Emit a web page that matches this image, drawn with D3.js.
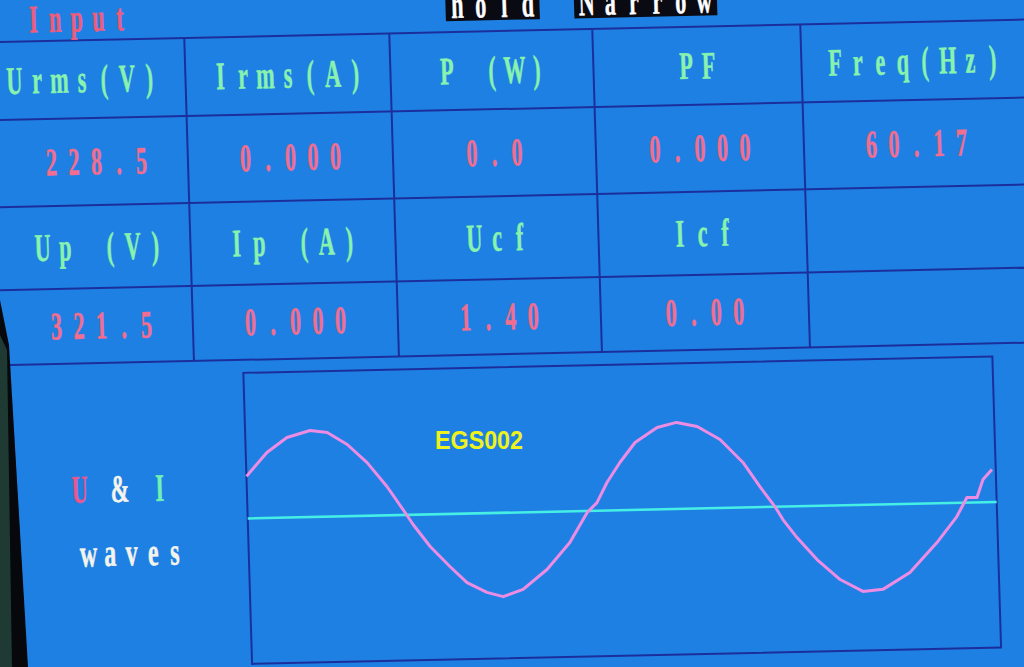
<!DOCTYPE html>
<html lang="en">

<head>
    <meta charset="UTF-8">
    <title>Input - U &amp; I waves</title>
    <script src="https://cdnjs.cloudflare.com/ajax/libs/d3/7.8.5/d3.min.js"></script>
    <style>
        html,
        body {
            margin: 0;
            padding: 0;
            background: #1f80e4;
            overflow: hidden;
        }

        svg#main {
            display: block;
        }

        line.grid {
            stroke: #1b2f9c;
            stroke-width: 2px;
        }

        text.lcd {
            font-family: 'Liberation Serif', 'DejaVu Serif', serif;
            font-size: 30px;
            text-anchor: middle;
            stroke-width: 0.4px;
        }

        rect.plot {
            fill: none;
            stroke: #1b2f9c;
            stroke-width: 2px;
        }

        path.voltage {
            fill: none;
            stroke: #ec8ce2;
            stroke-width: 3px;
            stroke-linejoin: round;
        }

        path.current {
            fill: none;
            stroke: #46efe6;
            stroke-width: 2.5px;
        }
    </style>
</head>

<body>
    <svg id="main" width="1024" height="667"></svg>
    <script>
        "use strict";

        // ---- readings shown on the meter ----
        const titleText = "Input";
        const modeTags = ["hold", "Narrow"];
        const headersTop = ["Urms(V)", "Irms(A)", "P (W)", "PF", "Freq(Hz)"];
        const valuesTop = ["228.5", "0.000", "0.0", "0.000", "60.17"];
        const headersBottom = ["Up (V)", "Ip (A)", "Ucf", "Icf", ""];
        const valuesBottom = ["321.5", "0.000", "1.40", "0.00", ""];
        const waveLabel = ["U & I", "waves"];
        const watermark = "EGS002";

        // voltage trace (time in ms, volts)
        const waveTimesMs = [0, 0.94, 1.85, 2.89, 3.65, 4.52, 5.38, 6.23, 7.0, 7.34,
            8.07, 8.92, 9.66, 10.53, 11.25, 12.14, 13.23, 14.28, 15.09, 15.54,
            16.01, 16.61, 17.31, 18.31, 19.18, 20.09, 21.09, 22.08, 22.8, 23.44,
            23.78, 24.38, 25.24, 26.24, 27.24, 28.13, 29.35, 30.59, 31.51, 31.98,
            32.43, 32.72, 33.13];
        const voltageSamples = [156, 243, 297, 321, 312, 266, 197, 107, 9, -36,
            -119, -195, -256, -294, -311, -286, -214, -116, -6, 30,
            104, 177, 250, 304, 321, 304, 254, 167, 76, 1,
            -48, -116, -199, -275, -321, -315, -255, -146, -51, 19,
            18, 84, 121];

        // current trace (flat, no load)
        const currentTimesMs = [0, 33.3];
        const currentSamples = [0, 0];

        const timeDomain = [0, 33.3];
        const voltDomain = [-540, 540];
        const ampDomain = [-1, 1];

        // ---- layout (screen coordinates before the camera skew) ----
        const colEdges = [0, 183, 388, 591, 799, 1024];
        const rowEdges = [42, 120, 207, 290, 365];
        const plot = { left: 232, right: 981, top: 378, bottom: 669 };

        const pink = "#f26d8e";
        const green = "#88f2ae";
        const white = "#f4f4ec";

        const svg = d3.select("svg#main");

        svg.append("rect")
            .attr("width", 1024)
            .attr("height", 667)
            .attr("fill", "#1f80e4");

        // photo was taken at a slight angle
        const screen = svg.append("g")
            .attr("transform", "matrix(1,-0.022,0.03,1,0,0)");

        function lcdLabel(parent, str, cx, cy, colorOf, opt) {
            opt = Object.assign({ pitch: 22.5, sx: 0.74, sy: 1.3, weight: "bold" }, opt);
            const chars = Array.from(str).map((ch, i) => ({ ch: ch, color: colorOf(ch, i) }));
            const n = chars.length;
            const g = parent.append("g")
                .attr("transform", "translate(" + cx + "," + cy + ") scale(" + opt.sx + "," + opt.sy + ")");
            g.selectAll("text")
                .data(chars)
                .join("text")
                .attr("class", "lcd")
                .attr("x", (d, i) => (i - (n - 1) / 2) * opt.pitch / opt.sx)
                .attr("y", 10)
                .attr("fill", d => d.color)
                .attr("stroke", d => d.color)
                .attr("font-weight", opt.weight)
                .text(d => d.ch);
            return g;
        }

        // grid
        const grid = screen.append("g").attr("class", "grid");

        grid.selectAll("line.h")
            .data(rowEdges)
            .join("line")
            .attr("class", "grid h")
            .attr("x1", -40).attr("x2", 1080)
            .attr("y1", d => d).attr("y2", d => d);

        grid.selectAll("line.v")
            .data(colEdges.slice(1, -1))
            .join("line")
            .attr("class", "grid v")
            .attr("x1", d => d).attr("x2", d => d)
            .attr("y1", rowEdges[0]).attr("y2", rowEdges[rowEdges.length - 1]);

        // title and mode tags
        lcdLabel(screen, titleText, 76, 20, () => "#ee5c7a", { pitch: 21.6 });

        const tagCenters = [492, 645];
        const tagWidths = [94, 143];
        modeTags.forEach((tag, i) => {
            screen.append("rect")
                .attr("x", tagCenters[i] - tagWidths[i] / 2)
                .attr("y", -30)
                .attr("width", tagWidths[i])
                .attr("height", 61)
                .attr("fill", "#0a0a12");
            lcdLabel(screen, tag, tagCenters[i], 15, () => "#ffffff", { pitch: 23.5 });
        });

        // table cells
        function cellCenter(col, row) {
            return [(colEdges[col] + colEdges[col + 1]) / 2, (rowEdges[row] + rowEdges[row + 1]) / 2];
        }

        [headersTop, valuesTop, headersBottom, valuesBottom].forEach((rowTexts, row) => {
            const color = row % 2 === 0 ? green : pink;
            rowTexts.forEach((str, col) => {
                if (!str) return;
                const c = cellCenter(col, row);
                // the first column text sits a little to the left on the LCD grid
                const shift = col === 0 && row === 0 ? -12 : 0;
                lcdLabel(screen, str, c[0] + shift, c[1], () => color);
            });
        });

        // wave caption
        const uiColors = { "U": "#e8588c", "&": white, "I": "#72f0b4" };
        lcdLabel(screen, waveLabel[0], 105, 491, ch => uiColors[ch] || white, { pitch: 20 });
        lcdLabel(screen, waveLabel[1], 115, 555, () => white, { pitch: 21.6, sx: 0.8 });

        // oscillogram
        const x = d3.scaleLinear().domain(timeDomain).range([plot.left, plot.right]);
        const yU = d3.scaleLinear().domain(voltDomain).range([plot.bottom, plot.top]);
        const yI = d3.scaleLinear().domain(ampDomain).range([plot.bottom, plot.top]);

        const chart = screen.append("g").attr("class", "chart");

        chart.append("rect")
            .attr("class", "plot")
            .attr("x", plot.left)
            .attr("y", plot.top)
            .attr("width", plot.right - plot.left)
            .attr("height", plot.bottom - plot.top);

        const currentLine = d3.line()
            .x(d => x(d[0]))
            .y(d => yI(d[1]));

        chart.append("path")
            .attr("class", "current")
            .attr("d", currentLine(d3.zip(currentTimesMs, currentSamples)));

        const voltageLine = d3.line()
            .x(d => x(d[0]))
            .y(d => yU(d[1]))
            .curve(d3.curveLinear);

        chart.append("path")
            .attr("class", "voltage")
            .attr("d", voltageLine(d3.zip(waveTimesMs, voltageSamples)));

        // yellow tag pasted on the photo
        svg.append("text")
            .attr("x", 435)
            .attr("y", 449)
            .attr("textLength", 88)
            .attr("lengthAdjust", "spacingAndGlyphs")
            .attr("font-family", "'Liberation Sans', Arial, sans-serif")
            .attr("font-weight", "bold")
            .attr("font-size", 25)
            .attr("fill", "#eef21c")
            .text(watermark);

        // monitor bezel on the left
        svg.append("polygon")
            .attr("points", "0,300 9,345 28,667 0,667")
            .attr("fill", "#06080c");
        svg.append("polygon")
            .attr("points", "0,335 7,350 12,667 0,667")
            .attr("fill", "#1e3a32");
    </script>
</body>

</html>
